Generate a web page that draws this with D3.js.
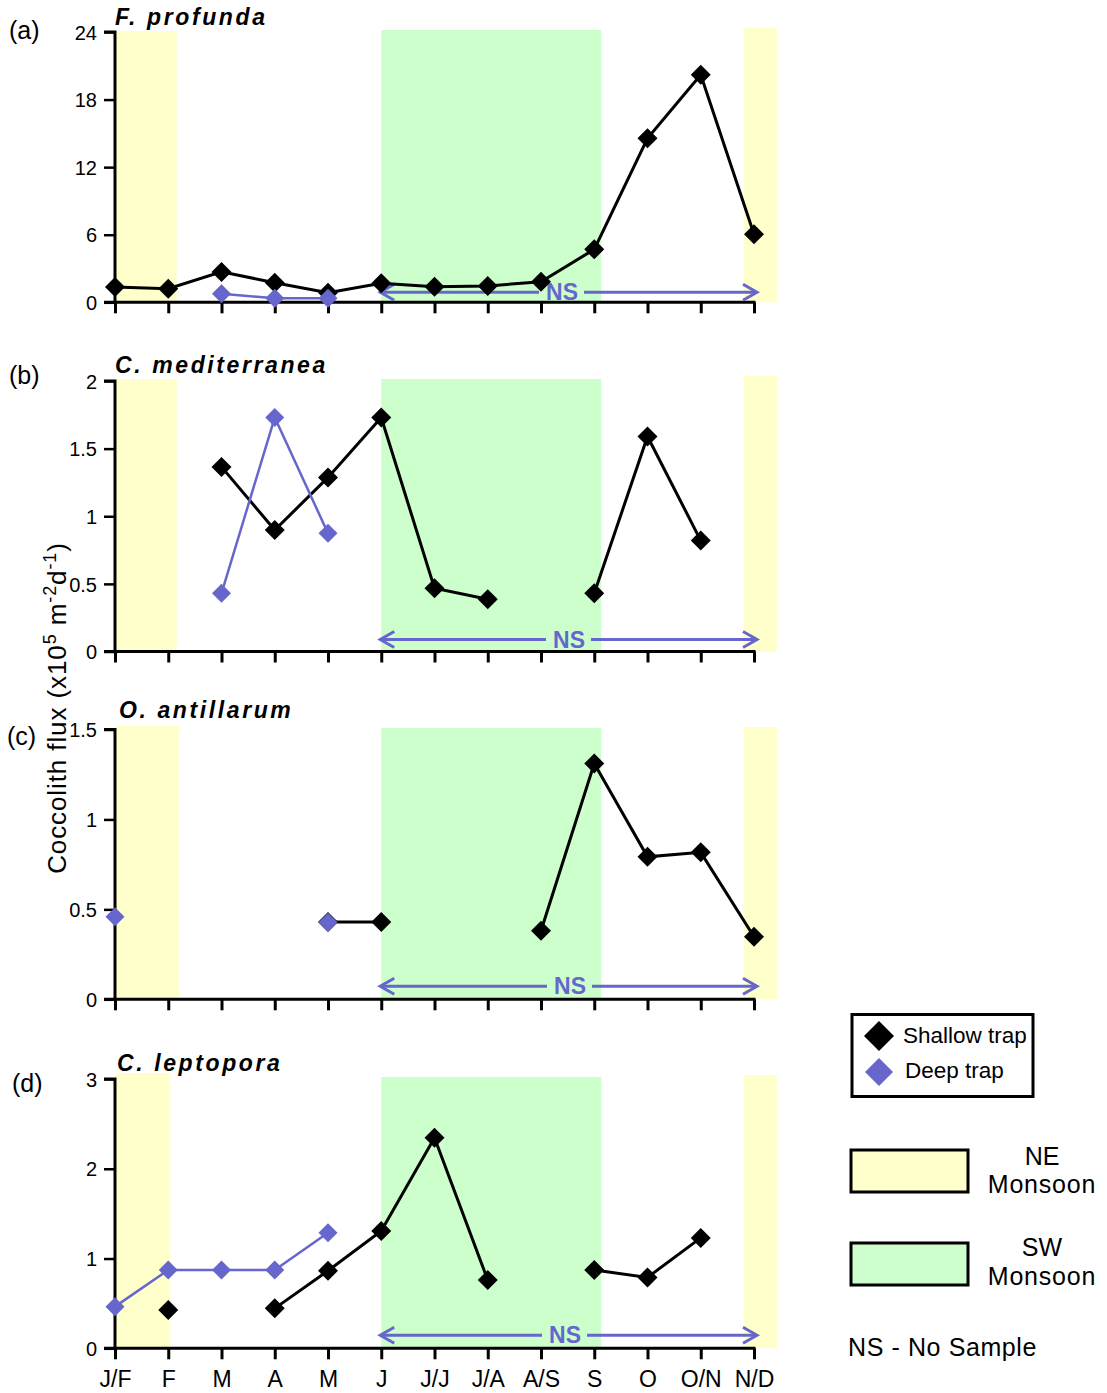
<!DOCTYPE html>
<html>
<head>
<meta charset="utf-8">
<script src="https://cdn.jsdelivr.net/npm/d3@7"></script>
<style>
  body { margin: 0; background: #fff; }
  svg { display: block; font-family: "Liberation Sans", Arial, sans-serif; }
</style>
</head>
<body>
<svg id="chart" width="1107" height="1393"></svg>
<script>
// ---------- DATA ----------
const months = ["J/F","F","M","A","M","J","J/J","J/A","A/S","S","O","O/N","N/D"];

const titles = ["F. profunda", "C. mediterranea", "O. antillarum", "C. leptopora"];
const panelLabels = ["(a)", "(b)", "(c)", "(d)"];
const yMaxes = [24, 2, 1.5, 3];
const yTicks = [[0,6,12,18,24],[0,0.5,1,1.5,2],[0,0.5,1,1.5],[0,1,2,3]];
const yTickLabels = [["0","6","12","18","24"],["0","0.5","1","1.5","2"],["0","0.5","1","1.5"],["0","1","2","3"]];

const shallowA = [1.36,1.2,2.7,1.74,0.85,1.69,1.39,1.45,1.83,4.7,14.56,20.2,6.04];
const deepA    = [null,null,0.76,0.36,0.36,null,null,null,null,null,null,null,null];
const shallowB = [null,null,1.365,0.898,1.287,1.73,0.468,0.387,null,0.431,1.59,0.82,null];
const deepB    = [null,null,0.43,1.73,0.874,null,null,null,null,null,null,null,null];
const shallowC = [null,null,null,null,0.43,0.43,null,null,0.381,1.311,0.792,0.817,0.348];
const deepC    = [0.459,null,null,null,0.428,null,null,null,null,null,null,null,null];
const shallowD = [null,0.427,null,0.445,0.864,1.306,2.345,0.76,null,0.872,0.79,1.23,null];
const deepD    = [0.464,0.872,0.872,0.872,1.287,null,null,null,null,null,null,null,null];

const shallowSeries = [shallowA, shallowB, shallowC, shallowD];
const deepSeries = [deepA, deepB, deepC, deepD];

// Monsoon periods, in month-index units (start, end)
const neBandsLeft = [[0,1.16],[0,1.16],[0,1.2],[0,1.04]];
const swBand = [5,9.13];
const neBandRight = [11.81,12.43];
// No-sample period (month indices)
const nsPeriod = [5,12];

const legendSeries = ["Shallow trap","Deep trap"];
const legendSeasons = [["NE","Monsoon"],["SW","Monsoon"]];
const nsNote = "NS - No Sample";

// ---------- STYLE / LAYOUT ----------
const BLUE = "#6666cc", YELLOW = "#ffffcc", GREEN = "#ccffcc";
const FONT = '"Liberation Sans", Arial, sans-serif';
const svg = d3.select("#chart");
const x = d3.scaleLinear().domain([0, 12]).range([115, 754]);
const panelPix = [[302.3, 32], [651.5, 381], [999.3, 729.5], [1348.3, 1079]];
const bandTops = [[31, 30, 28], [379, 379, 376], [726, 728, 727], [1073, 1077, 1075]];
const titlePos = [[115, 25], [115, 373], [119, 718], [117, 1071]];
const labelPos = [[9, 39], [9, 384], [7, 745], [12, 1092]];
const nsMids = [564, 571, 572, 567];
const nsOffsets = [10, 12, 13, 13];

function diamond(sel, cx, cy, r, fill) {
  sel.append("path")
    .attr("d", `M${cx},${cy - r}L${cx + r},${cy}L${cx},${cy + r}L${cx - r},${cy}Z`)
    .attr("fill", fill);
}

titles.forEach((title, p) => {
  const g = svg.append("g");
  const y = d3.scaleLinear().domain([0, yMaxes[p]]).range(panelPix[p]);
  const y0 = y(0);

  // bands
  const bl = neBandsLeft[p];
  g.append("rect").attr("x", x(bl[0])).attr("y", bandTops[p][0])
    .attr("width", x(bl[1]) - x(bl[0])).attr("height", y0 - bandTops[p][0]).attr("fill", YELLOW);
  g.append("rect").attr("x", x(swBand[0])).attr("y", bandTops[p][1])
    .attr("width", x(swBand[1]) - x(swBand[0])).attr("height", y0 - bandTops[p][1]).attr("fill", GREEN);
  g.append("rect").attr("x", x(neBandRight[0])).attr("y", bandTops[p][2])
    .attr("width", x(neBandRight[1]) - x(neBandRight[0])).attr("height", y0 - bandTops[p][2]).attr("fill", YELLOW);

  // y axis
  const yAxis = d3.axisLeft(y).tickValues(yTicks[p]).tickSize(11).tickPadding(7)
    .tickFormat((d, i) => yTickLabels[p][i]);
  const ya = g.append("g").attr("transform", `translate(${x(0)},0)`).call(yAxis);
  ya.select(".domain").attr("stroke", "#000").attr("stroke-width", 3)
    .attr("d", `M-11,${y(yMaxes[p])}H0V${y0}H-11`);
  ya.selectAll(".tick line").attr("stroke", "#000").attr("stroke-width", 2.5);
  ya.selectAll(".tick text").attr("font-size", 20).attr("fill", "#000")
    .attr("font-family", FONT).attr("dy", "0.36em");

  // x axis
  const xAxis = d3.axisBottom(x).tickValues(d3.range(months.length)).tickSize(11).tickPadding(11)
    .tickFormat(p === 3 ? (d => months[d]) : (() => ""));
  const xa = g.append("g").attr("transform", `translate(0,${y0})`).call(xAxis);
  xa.select(".domain").attr("stroke", "#000").attr("stroke-width", 3)
    .attr("d", `M${x(0) - 1.5},0H${x(12) + 1.5}`);
  xa.selectAll(".tick line").attr("stroke", "#000").attr("stroke-width", 3);
  xa.selectAll(".tick text").attr("font-size", 23).attr("fill", "#000")
    .attr("font-family", FONT);

  // NS arrow
  const ay = y0 - nsOffsets[p];
  const nsMid = nsMids[p];
  const nsG = g.append("g").attr("stroke", BLUE).attr("stroke-width", 3).attr("fill", "none");
  nsG.append("line").attr("x1", x(nsPeriod[0])).attr("x2", nsMid - 25).attr("y1", ay).attr("y2", ay);
  nsG.append("line").attr("x1", nsMid + 20).attr("x2", x(nsPeriod[1]) + 2).attr("y1", ay).attr("y2", ay);
  nsG.append("path").attr("d", `M${x(nsPeriod[0]) + 13},${ay - 8}L${x(nsPeriod[0]) - 1},${ay}L${x(nsPeriod[0]) + 13},${ay + 8}`);
  nsG.append("path").attr("d", `M${x(nsPeriod[1]) - 11},${ay - 8}L${x(nsPeriod[1]) + 3},${ay}L${x(nsPeriod[1]) - 11},${ay + 8}`);
  g.append("text").attr("x", nsMid - 2).attr("y", ay + 8).attr("text-anchor", "middle")
    .attr("font-size", 23).attr("font-weight", "bold").attr("fill", BLUE).text("NS");

  // lines
  const line = d3.line().defined(d => d.v !== null).x(d => x(d.i)).y(d => y(d.v));
  const sh = shallowSeries[p].map((v, i) => ({i, v}));
  const dp = deepSeries[p].map((v, i) => ({i, v}));
  g.append("path").datum(sh).attr("d", line).attr("fill", "none").attr("stroke", "#000").attr("stroke-width", 3);
  g.append("path").datum(dp).attr("d", line).attr("fill", "none").attr("stroke", BLUE).attr("stroke-width", 2.5);
  sh.filter(d => d.v !== null).forEach(d => diamond(g, x(d.i), y(d.v), 10, "#000"));
  dp.filter(d => d.v !== null).forEach(d => diamond(g, x(d.i), y(d.v), 9.5, BLUE));

  // titles
  g.append("text").attr("x", titlePos[p][0]).attr("y", titlePos[p][1])
    .attr("font-size", 23).attr("font-weight", "bold").attr("font-style", "italic")
    .attr("letter-spacing", 2.6).attr("fill", "#000").text(title);
  g.append("text").attr("x", labelPos[p][0]).attr("y", labelPos[p][1])
    .attr("font-size", 25).attr("fill", "#000").text(panelLabels[p]);
});

// Y axis label
const yl = svg.append("text").attr("transform", "translate(66,708) rotate(-90)")
  .attr("text-anchor", "middle").attr("font-size", 26).attr("letter-spacing", 0.9).attr("fill", "#000");
yl.append("tspan").text("Coccolith flux (x10");
yl.append("tspan").attr("dy", -10).attr("font-size", 18).text("5");
yl.append("tspan").attr("dy", 10).text(" m");
yl.append("tspan").attr("dy", -10).attr("font-size", 18).text("-2");
yl.append("tspan").attr("dy", 10).text("d");
yl.append("tspan").attr("dy", -10).attr("font-size", 18).text("-1");
yl.append("tspan").attr("dy", 10).text(")");

// Legend
const lg = svg.append("g");
lg.append("rect").attr("x", 852).attr("y", 1014.5).attr("width", 181).attr("height", 82)
  .attr("fill", "#fff").attr("stroke", "#000").attr("stroke-width", 3);
diamond(lg, 879, 1036, 15, "#000");
diamond(lg, 879, 1072, 14, BLUE);
lg.append("text").attr("x", 903).attr("y", 1043).attr("font-size", 22.5).text(legendSeries[0]);
lg.append("text").attr("x", 905).attr("y", 1078).attr("font-size", 22.5).text(legendSeries[1]);

const seasonFills = [YELLOW, GREEN];
const seasonBoxY = [1150, 1243];
const seasonTextY = [[1165, 1193], [1256, 1285]];
legendSeasons.forEach((s, i) => {
  lg.append("rect").attr("x", 851).attr("y", seasonBoxY[i]).attr("width", 117).attr("height", 42)
    .attr("fill", seasonFills[i]).attr("stroke", "#000").attr("stroke-width", 3);
  lg.append("text").attr("x", 1042).attr("y", seasonTextY[i][0]).attr("text-anchor", "middle")
    .attr("font-size", 25).text(s[0]);
  lg.append("text").attr("x", 1042).attr("y", seasonTextY[i][1]).attr("text-anchor", "middle")
    .attr("font-size", 25).attr("letter-spacing", 0.8).text(s[1]);
});
lg.append("text").attr("x", 848).attr("y", 1356).attr("font-size", 25).attr("letter-spacing", 0.6).text(nsNote);
</script>
</body>
</html>
